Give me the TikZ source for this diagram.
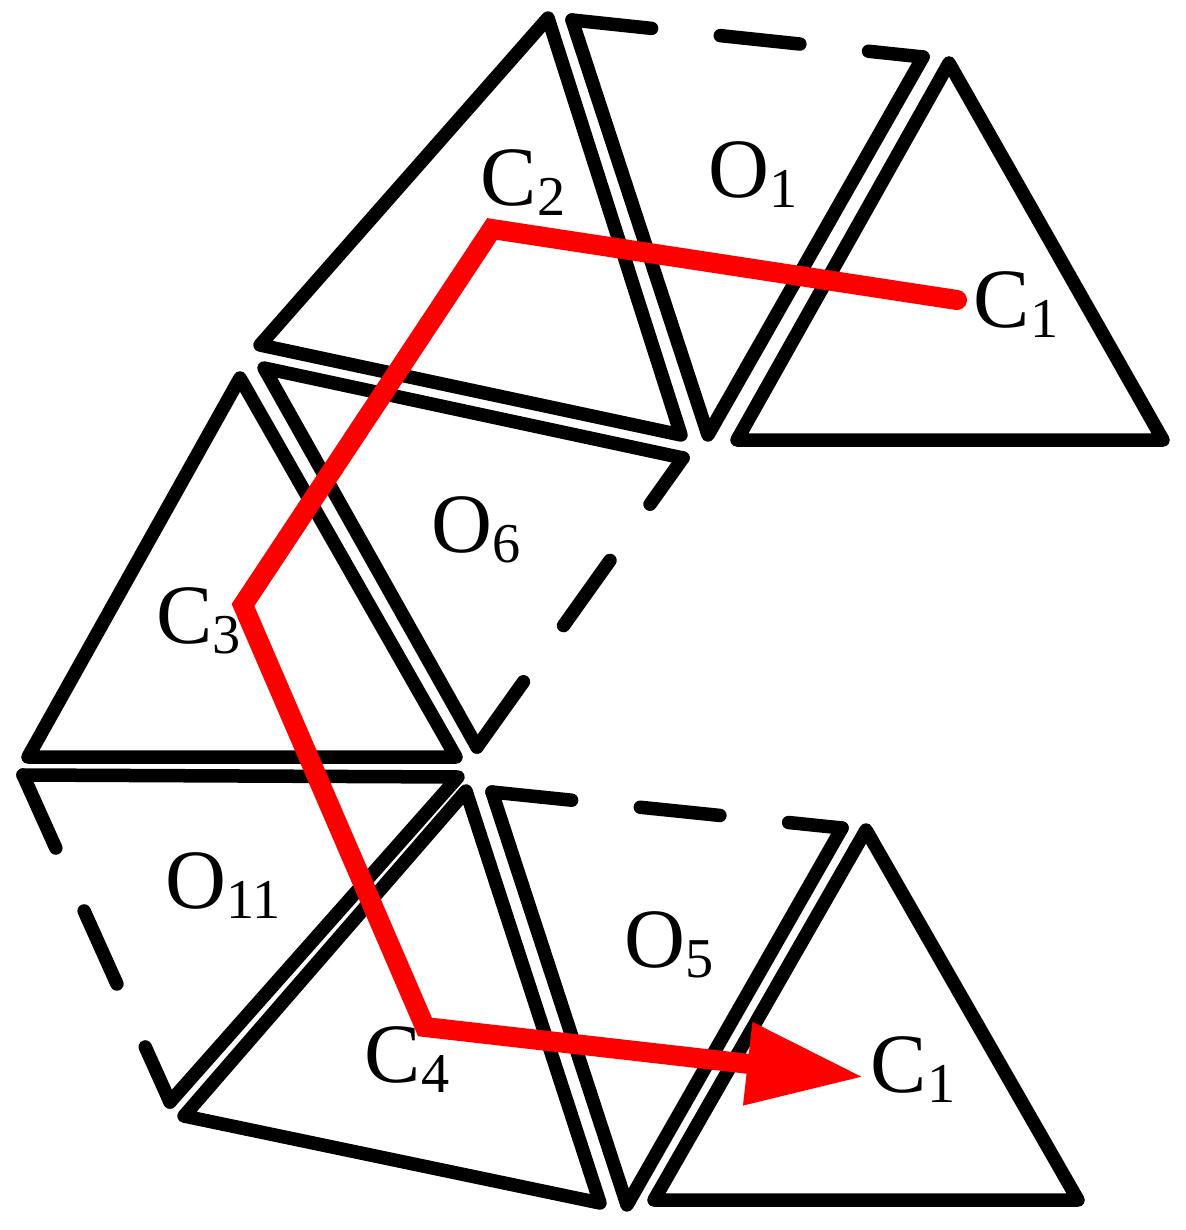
\documentclass[tikz,border=0pt]{standalone}
\usepackage{fontspec}
\setmainfont{Liberation Serif}
\usetikzlibrary{arrows.meta}
\newcommand{\subname}[2]{#1\raisebox{-0.12em}{\fontsize{16}{16}\selectfont #2}}
\tikzset{
  cell/.style={line width=0.135cm, line join=round, line cap=round},
  openside/.style={cell, dash pattern=on 0.80cm off 0.69cm},
  route/.style={red, line width=0.2cm, line join=miter, line cap=round},
  lab/.style={inner sep=0pt, anchor=base west, font=\fontsize{24}{24}\selectfont}
}
\begin{document}
\begin{tikzpicture}[x=0.01cm, y=-0.01cm]
\useasboundingbox (0,0) rectangle (1186,1230);
% top row
\draw[cell] (548,18)--(260,345)--(681,435)--cycle;
\draw[cell] (923,57)--(708,435)--(572,20);
\draw[openside] (572,20)--(923,57);
\draw[cell] (949,63)--(737,440)--(1163,440)--cycle;
% middle row
\draw[cell] (683,458)--(264,368)--(477,747);
\draw[openside] (477,747)--(683,458);
\draw[cell] (240,378)--(28,757)--(456,757)--cycle;
% bottom row
\draw[cell] (170,1102)--(458,777)--(23,775);
\draw[openside] (23,775)--(170,1102);
\draw[cell] (466,791)--(184,1116)--(600,1203)--cycle;
\draw[cell] (842,828)--(627,1205)--(492,792);
\draw[openside] (492,792)--(842,828);
\draw[cell] (866,830)--(654,1200)--(1078,1200)--cycle;
% labels
\node[lab] (lc2) at (480,205) {\subname{C}{2}};
\node[lab] (lo1) at (708,197) {\subname{O}{1}};
\node[lab] (lc1) at (973,327) {\subname{C}{1}};
\node[lab] (lo6) at (431,552) {\subname{O}{6}};
\node[lab] (lc3) at (156,643) {\subname{C}{3}};
\node[lab] (lo11) at (165,908) {\subname{O}{11}};
\node[lab] (lc4) at (364,1082) {\subname{C}{4}};
\node[lab] (lo5) at (624,967) {\subname{O}{5}};
\node[lab] (lc1b) at (870,1092) {\subname{C}{1}};
% route
\coordinate (c1) at (957,300);
\coordinate (c2) at (492,229);
\coordinate (c3) at (243,605);
\coordinate (c4) at (425,1027);
\coordinate (c1b) at (864,1077);
\draw[route, -{Triangle[length=1.17cm, width=0.78cm]}] (c1)--(c2)--(c3)--(c4)--(c1b);
\end{tikzpicture}
\end{document}
